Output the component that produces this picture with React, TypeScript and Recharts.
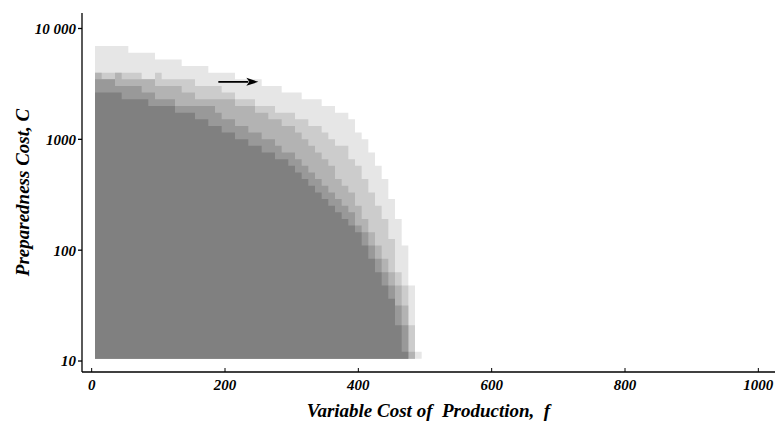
import { ComposedChart, Area, XAxis, YAxis, ReferenceLine, Label } from "recharts";

// grid columns: variable cost of production f (column centres)
const fValues = [
  10, 20, 30, 40, 50, 60, 70, 80, 90, 100, 110, 120, 130, 140, 150, 160, 170,
  180, 190, 200, 210, 220, 230, 240, 250, 260, 270, 280, 290, 300, 310, 320,
  330, 340, 350, 360, 370, 380, 390, 400, 410, 420, 430, 440, 450, 460, 470,
  480, 490,
];

// top of each shaded level per column (preparedness cost C), darkest level first
const level1Tops = [
  2640, 2640, 2640, 2640, 2300, 2300, 2300, 2300, 2000, 2000, 2000, 2000, 1740,
  1740, 1740, 1520, 1520, 1320, 1320, 1150, 1150, 1000, 1000, 874, 874, 761,
  761, 663, 663, 577, 503, 438, 381, 332, 289, 252, 220, 191, 167, 145, 110,
  83.5, 63.3, 48.0, 36.4, 21.0, 12.1, 10.5, 10.5,
];
const level2Tops = [
  3480, 3480, 3480, 3030, 3030, 3030, 3030, 2640, 2640, 2300, 2300, 2300, 2000,
  2000, 2000, 2000, 2000, 2000, 1740, 1520, 1520, 1320, 1320, 1150, 1150, 1000,
  1000, 874, 761, 761, 663, 577, 503, 438, 381, 332, 289, 252, 220, 167, 145,
  110, 83.5, 63.3, 48.0, 31.7, 21.0, 10.5, 10.5,
];
const level3Tops = [
  3990, 3480, 3480, 3990, 3480, 3480, 3480, 3480, 3480, 3030, 3030, 3030, 3030,
  2640, 2640, 2300, 2300, 2300, 2300, 2300, 2300, 2000, 2000, 2000, 1740, 1740,
  1520, 1520, 1320, 1320, 1150, 1000, 874, 761, 663, 577, 438, 381, 332, 252,
  191, 145, 110, 83.5, 63.3, 48.0, 31.7, 12.1, 10.5,
];
const level4Tops = [
  3990, 3990, 3990, 3990, 3990, 3990, 3990, 3480, 3480, 3990, 3480, 3480, 3480,
  3480, 3480, 3030, 3030, 3030, 3030, 2640, 2640, 2300, 2300, 2300, 2000, 2000,
  2000, 1740, 1740, 1740, 1520, 1520, 1320, 1320, 1150, 1000, 874, 874, 663,
  577, 438, 332, 252, 191, 126, 63.3, 48.0, 21.0, 10.5,
];
const level5Tops = [
  6940, 6940, 6940, 6940, 6940, 6040, 6040, 6040, 6040, 5260, 5260, 5260, 5260,
  4580, 4580, 4580, 4580, 3990, 3990, 3990, 3990, 3480, 3480, 3480, 3480, 3030,
  3030, 3030, 2640, 2640, 2640, 2300, 2300, 2300, 2000, 2000, 1740, 1740, 1520,
  1150, 1000, 761, 577, 438, 289, 191, 110, 48.0, 12.1,
];

// bottom edge of the grid
const cBottom = 10.5;

const levelColors = ["#808080", "#999999", "#b3b3b3", "#cccccc", "#e6e6e6"];

const xTicks = [0, 200, 400, 600, 800, 1000];
const yTicks = [10, 100, 1000, 10000];

// arrow drawn inside the light band
const arrowFrom = 190;
const arrowTo = 250;
const arrowC = 3300;

const serif = '"Liberation Serif", "Times New Roman", serif';

const levels = [level1Tops, level2Tops, level3Tops, level4Tops, level5Tops];
const halfWidth = (fValues[1] - fValues[0]) / 2;

// stepAfter areas need the left edge of each column, plus one closing point
const chartData: Record<string, number>[] = fValues.map((f, i) => {
  const row: Record<string, number> = { edge: f - halfWidth };
  levels.forEach((tops, k) => {
    row[`l${k + 1}`] = tops[i];
  });
  return row;
});
const last = fValues.length - 1;
chartData.push({ ...chartData[last], edge: fValues[last] + halfWidth });

const textStyle = {
  fontFamily: serif,
  fontWeight: 700,
  fontStyle: "italic" as const,
  fill: "#000",
};

const XTick = ({ x, y, payload }: any) => (
  <g>
    <line x1={x} x2={x} y1={y} y2={y - 4} stroke="#000" strokeWidth={1} />
    <text x={x} y={y + 18} textAnchor="middle" fontSize={15} {...textStyle}>
      {payload.value}
    </text>
  </g>
);

const XTitle = ({ viewBox }: any) => (
  <text
    x={viewBox.x + viewBox.width / 2}
    y={viewBox.y + 45}
    textAnchor="middle"
    fontSize={19}
    style={{ whiteSpace: "pre" }}
    {...textStyle}
  >
    {"Variable Cost of  Production,  f"}
  </text>
);

const YTitle = ({ viewBox }: any) => {
  const cx = 22;
  const cy = viewBox.y + viewBox.height / 2;
  return (
    <text
      x={cx}
      y={cy}
      textAnchor="middle"
      dominantBaseline="central"
      transform={`rotate(-90, ${cx}, ${cy})`}
      fontSize={19}
      {...textStyle}
    >
      Preparedness Cost, C
    </text>
  );
};

const Arrow = ({ x1, y1, x2, y2 }: any) => {
  const head = 12;
  return (
    <g>
      <line x1={x1} y1={y1} x2={x2 - head + 2} y2={y2} stroke="#000" strokeWidth={1.8} />
      <polygon
        points={`${x2},${y2} ${x2 - head},${y2 - 4} ${x2 - head + 3},${y2} ${x2 - head},${y2 + 4}`}
        fill="#000"
      />
    </g>
  );
};

export default function App() {
  return (
    <div style={{ position: "absolute", left: 0, top: 0, width: 775, height: 425, background: "#fff" }}>
      <ComposedChart
        width={775}
        height={425}
        data={chartData}
        margin={{ top: 13, right: 0, bottom: 0, left: 0 }}
      >
        <XAxis
          dataKey="edge"
          type="number"
          domain={[-14.5, 1025]}
          allowDataOverflow
          ticks={xTicks}
          interval={0}
          tickSize={0}
          tickMargin={0}
          tick={<XTick />}
          height={53}
          stroke="#000"
          strokeWidth={1.5}
          label={<Label content={XTitle} />}
        />
        <YAxis
          type="number"
          scale="log"
          domain={[7.96, 13800]}
          allowDataOverflow
          ticks={yTicks}
          interval={0}
          tickSize={4}
          tickMargin={2}
          width={82}
          stroke="#000"
          strokeWidth={1.3}
          tickFormatter={(v: number) => (v === 10000 ? "10 000" : String(v))}
          tick={{ ...textStyle, fontSize: 15 }}
          label={<Label content={YTitle} />}
        />
        {[5, 4, 3, 2, 1].map((k) => (
          <Area
            key={k}
            dataKey={`l${k}`}
            type="stepAfter"
            baseValue={cBottom}
            fill={levelColors[k - 1]}
            fillOpacity={1}
            stroke="none"
            dot={false}
            activeDot={false}
            isAnimationActive={false}
          />
        ))}
        <ReferenceLine
          segment={[
            { x: arrowFrom, y: arrowC },
            { x: arrowTo, y: arrowC },
          ]}
          shape={Arrow}
        />
      </ComposedChart>
    </div>
  );
}
